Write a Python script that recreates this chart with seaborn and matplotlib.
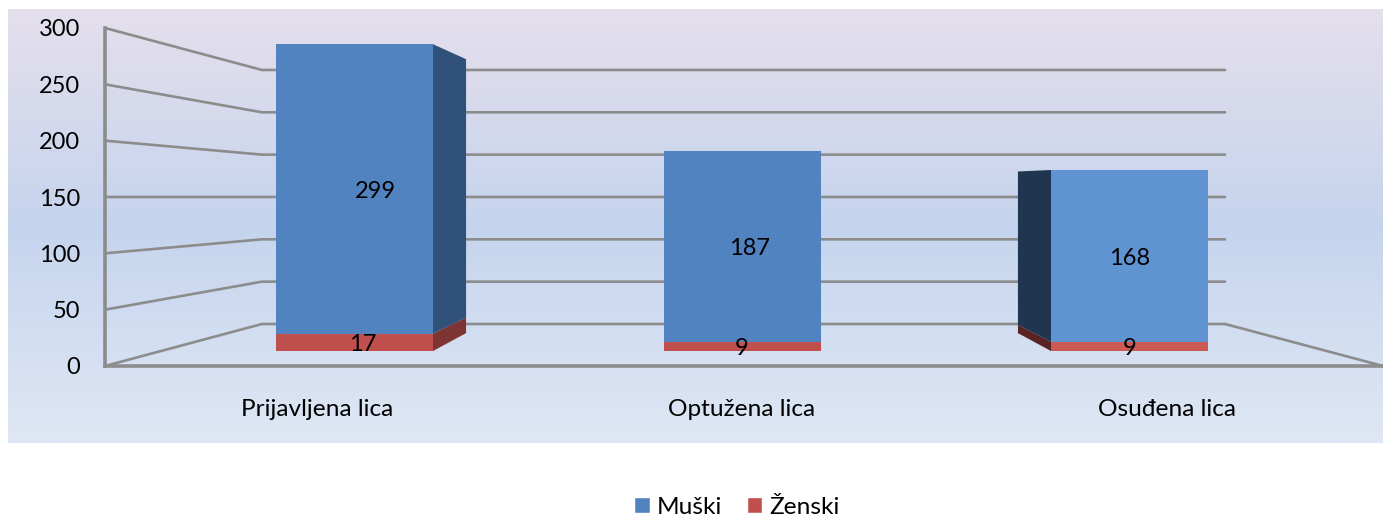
import numpy as np
import pandas as pd
import matplotlib
matplotlib.use("Agg")
import matplotlib.pyplot as plt
from matplotlib.colors import LinearSegmentedColormap
from matplotlib.patches import Patch, Polygon
import seaborn as sns

# data
categories = ['Prijavljena lica', 'Optužena lica', 'Osuđena lica']
muski = np.array([299, 187, 168])
zenski = np.array([17, 9, 9])
y_ticks = [0, 50, 100, 150, 200, 250, 300]
y_max = 300  # axis stops at 300, first bar gets cut off there

blue_faces = ['#5283c1', '#5283c1', '#5f93d2']
red_faces = ['#c0504d', '#c0504d', '#cb5a55']
blue_sides = ['#30527a', '#30527a', '#1f3550']
red_sides = ['#7d3433', '#7d3433', '#5a2222']
grid_col = '#8c8c8c'

# labels sit a bit off the bar centre in the original (pixels)
muski_nudge = [21, 8, 0]
zenski_nudge = [8, 0, 0]

W, H = 1383, 517
sns.set_style('white')
plt.rcParams['font.family'] = ['Lato', 'DejaVu Sans']
fs = 17.6


def box(x0, y0, x1, y1):
    # pixel box (from top left) to figure fractions
    return [x0 / W, 1 - y1 / H, (x1 - x0) / W, (y1 - y0) / H]


fig = plt.figure(figsize=(W / 100, H / 100), dpi=100, facecolor='white')

# background panel
bg = fig.add_axes(box(8, 9, W, 443), zorder=0)
cmap = LinearSegmentedColormap.from_list('panel', ['#e5dfec', '#c5d4ee', '#dfe7f4'])
bg.imshow(np.linspace(0, 1, 256).reshape(-1, 1), aspect='auto', cmap=cmap)
bg.axis('off')

# walls, drawn on the front plane of the box
wall = fig.add_axes(box(105, 28, W, 366), zorder=1)
wall.patch.set_alpha(0)
cat_x0, cat_step = 317, 425  # pixel position of the category labels
wall.set_xlim((105 - cat_x0) / cat_step, (W - cat_x0) / cat_step)
wall.set_ylim(0, y_max)
x_left, x_right = wall.get_xlim()
back_l = (262 - cat_x0) / cat_step
back_r = (1225 - cat_x0) / cat_step


def back_val(v):
    return 37.3 + 0.7515 * v


for v in y_ticks:
    wall.plot([x_left, back_l, back_r], [v, back_val(v), back_val(v)],
              color=grid_col, lw=1.9, clip_on=False, solid_joinstyle='miter')
wall.plot([back_r, x_right], [back_val(0), 0], color=grid_col, lw=1.9, clip_on=False)

sns.despine(ax=wall, top=True, right=True)
for side in ['left', 'bottom']:
    wall.spines[side].set_color(grid_col)
    wall.spines[side].set_linewidth(2.6)
wall.set_yticks(y_ticks)
wall.set_yticklabels([str(v) for v in y_ticks], fontsize=17, color='black')
wall.set_xticks(range(len(categories)))
wall.set_xticklabels(categories, fontsize=fs, color='black')
wall.tick_params(axis='y', length=0, pad=18)
wall.tick_params(axis='x', length=0, pad=24)

# bars plane
ax = fig.add_axes([0, 0, 1, 1], zorder=2)
ax.patch.set_alpha(0)
bar_x0, bar_step = 354.5, 387.5
y_scale = 1.0226
base_px = 351
bar_w = 157 / bar_step

total = muski + zenski
visible = np.minimum(total, y_max)

sns.barplot(x=categories, y=visible, hue=categories, palette=blue_faces, width=bar_w,
            saturation=1, legend=False, dodge=False, linewidth=0, ax=ax)
sns.barplot(x=categories, y=zenski, hue=categories, palette=red_faces, width=bar_w,
            saturation=1, legend=False, dodge=False, linewidth=0, ax=ax)
ax.set_xlim(-bar_x0 / bar_step, (W - bar_x0) / bar_step)
ax.set_ylim((base_px - H) / y_scale, base_px / y_scale)
ax.axis('off')

# side faces go towards the vanishing point
depth = 0.107
van_x = 1
van_y = (base_px - 184) / y_scale


def back(x, y):
    return x + depth * (van_x - x), y + depth * (van_y - y)


def side_face(x, y0, y1, color):
    x_b0, y_b0 = back(x, y0)
    x_b1, y_b1 = back(x, y1)
    ax.add_patch(Polygon([(x, y0), (x, y1), (x_b1, y_b1), (x_b0, y_b0)],
                         closed=True, facecolor=color, edgecolor='none', zorder=1))


for i in range(len(categories)):
    if i == van_x:
        continue
    edge = i + bar_w / 2 if i < van_x else i - bar_w / 2
    side_face(edge, 0, zenski[i], red_sides[i])
    side_face(edge, zenski[i], visible[i], blue_sides[i])

# value labels
text_drop = 2.5
for i in range(len(categories)):
    ax.text(i + muski_nudge[i] / bar_step, (zenski[i] + visible[i]) / 2 - text_drop, str(muski[i]),
            ha='center', va='center', fontsize=17, color='black', zorder=5)
    ax.text(i + zenski_nudge[i] / bar_step, zenski[i] / 2 - text_drop, str(zenski[i]),
            ha='center', va='center', fontsize=17, color='black', zorder=5)

# legend
handles = [Patch(facecolor=blue_faces[0], label='Muški'), Patch(facecolor=red_faces[0], label='Ženski')]
fig.legend(handles=handles, loc='center', bbox_to_anchor=(737 / W, 1 - 507 / H), ncol=2,
           frameon=False, fontsize=fs, handlelength=0.62, handleheight=0.62,
           handletextpad=0.3, columnspacing=1.0, borderpad=0, labelcolor='black')

fig.savefig('out.png', dpi=100)
